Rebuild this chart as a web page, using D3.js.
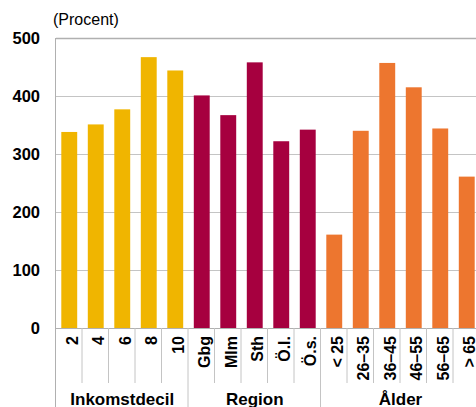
<!DOCTYPE html>
<html>
<head>
<meta charset="utf-8">
<script src="https://cdn.jsdelivr.net/npm/d3@7"></script>
<style>
  body { margin: 0; background: #fff; }
  svg { display: block; font-family: "Liberation Sans", Arial, sans-serif; }
</style>
</head>
<body>
<svg id="chart" width="476" height="407"></svg>
<script>
// Categories grouped by dimension
const incomeCats = ["2", "4", "6", "8", "10"];
const regionCats = ["Gbg", "Mlm", "Sth", "Ö.l.", "Ö.s."];
const ageCats = ["< 25", "26–35", "36–45", "46–55", "56–65", "> 65"];

// Values (percent)
const incomeVals = [338, 351, 377, 467, 444];
const regionVals = [401, 367, 458, 322, 342];
const ageVals = [161, 340, 457, 415, 344, 261];

const groupNames = ["Inkomstdecil", "Region", "Ålder"];
const yTicks = [0, 100, 200, 300, 400, 500];

const groupColors = ["#F0B500", "#A6003F", "#ED762F"];

const groups = [
  { name: groupNames[0], cats: incomeCats, vals: incomeVals, color: groupColors[0] },
  { name: groupNames[1], cats: regionCats, vals: regionVals, color: groupColors[1] },
  { name: groupNames[2], cats: ageCats, vals: ageVals, color: groupColors[2] }
];

const data = [];
groups.forEach((g, gi) => g.cats.forEach((c, i) =>
  data.push({ key: g.name + "|" + c, label: c, value: g.vals[i], color: g.color, group: gi })));

const svg = d3.select("#chart");
const plotLeft = 56, plotTop = 38, plotBottom = 328;
const step = 26.5;
const plotRight = plotLeft + step * data.length;

const x = d3.scaleBand().domain(data.map(d => d.key)).range([plotLeft, plotRight]).paddingInner(0.4).paddingOuter(0.2);
const y = d3.scaleLinear().domain([0, 500]).range([plotBottom, plotTop]);

// Gridlines
svg.append("g").selectAll("line").data(yTicks.filter(t => t > 0)).join("line")
  .attr("x1", plotLeft).attr("x2", 476)
  .attr("y1", d => y(d) + 0.5).attr("y2", d => y(d) + 0.5)
  .attr("stroke", d => d === 500 ? "#b0b0b0" : "#c4c4c4")
  .attr("stroke-width", d => d === 500 ? 1.5 : 1);

// Bars
svg.append("g").selectAll("rect").data(data).join("rect")
  .attr("x", d => x(d.key))
  .attr("width", x.bandwidth())
  .attr("y", d => y(d.value))
  .attr("height", d => y(0) - y(d.value))
  .attr("fill", d => d.color);

// Baseline and y axis line
svg.append("line").attr("x1", plotLeft).attr("x2", 476).attr("y1", plotBottom + 0.5).attr("y2", plotBottom + 0.5)
  .attr("stroke", "#b0b0b0");
svg.append("line").attr("x1", plotLeft - 0.5).attr("x2", plotLeft - 0.5).attr("y1", plotTop).attr("y2", 407)
  .attr("stroke", "#b0b0b0");

// Y tick labels
const yAxis = d3.axisLeft(y).tickValues(yTicks).tickSize(0).tickPadding(0);
const yg = svg.append("g").attr("transform", `translate(${plotLeft - 16},0)`).call(yAxis);
yg.select(".domain").remove();
yg.selectAll("text").attr("font-size", 16.5).attr("font-weight", "bold").attr("fill", "#000")
  .attr("font-family", "'Liberation Sans', Arial, sans-serif");

// Category separators; group boundaries run down to the bottom edge
const groupEnds = [];
let acc = 0;
groups.forEach(g => { acc += g.cats.length; groupEnds.push(acc); });
svg.append("g").selectAll("line").data(d3.range(1, data.length + 1)).join("line")
  .attr("x1", i => plotLeft + i * step - 0.5).attr("x2", i => plotLeft + i * step - 0.5)
  .attr("y1", plotBottom)
  .attr("y2", i => groupEnds.includes(i) ? 407 : 383)
  .attr("stroke", "#c4c4c4");

// Category labels (rotated)
svg.append("g").selectAll("text").data(data).join("text")
  .attr("transform", d => `translate(${x(d.key) + x.bandwidth() / 2 + 8.5},336) rotate(-90)`)
  .attr("text-anchor", "end")
  .attr("font-size", 16).attr("font-weight", "bold")
  .text(d => d.label);

// Group labels
let start = 0;
groups.forEach(g => {
  const x0 = plotLeft + start * step, x1 = plotLeft + (start + g.cats.length) * step;
  svg.append("text").attr("x", (x0 + x1) / 2).attr("y", 405)
    .attr("text-anchor", "middle").attr("font-size", 17).attr("font-weight", "bold")
    .text(g.name);
  start += g.cats.length;
});

// Unit label
svg.append("text").attr("x", 53).attr("y", 25).attr("font-size", 16).text("(Procent)");
</script>
</body>
</html>
